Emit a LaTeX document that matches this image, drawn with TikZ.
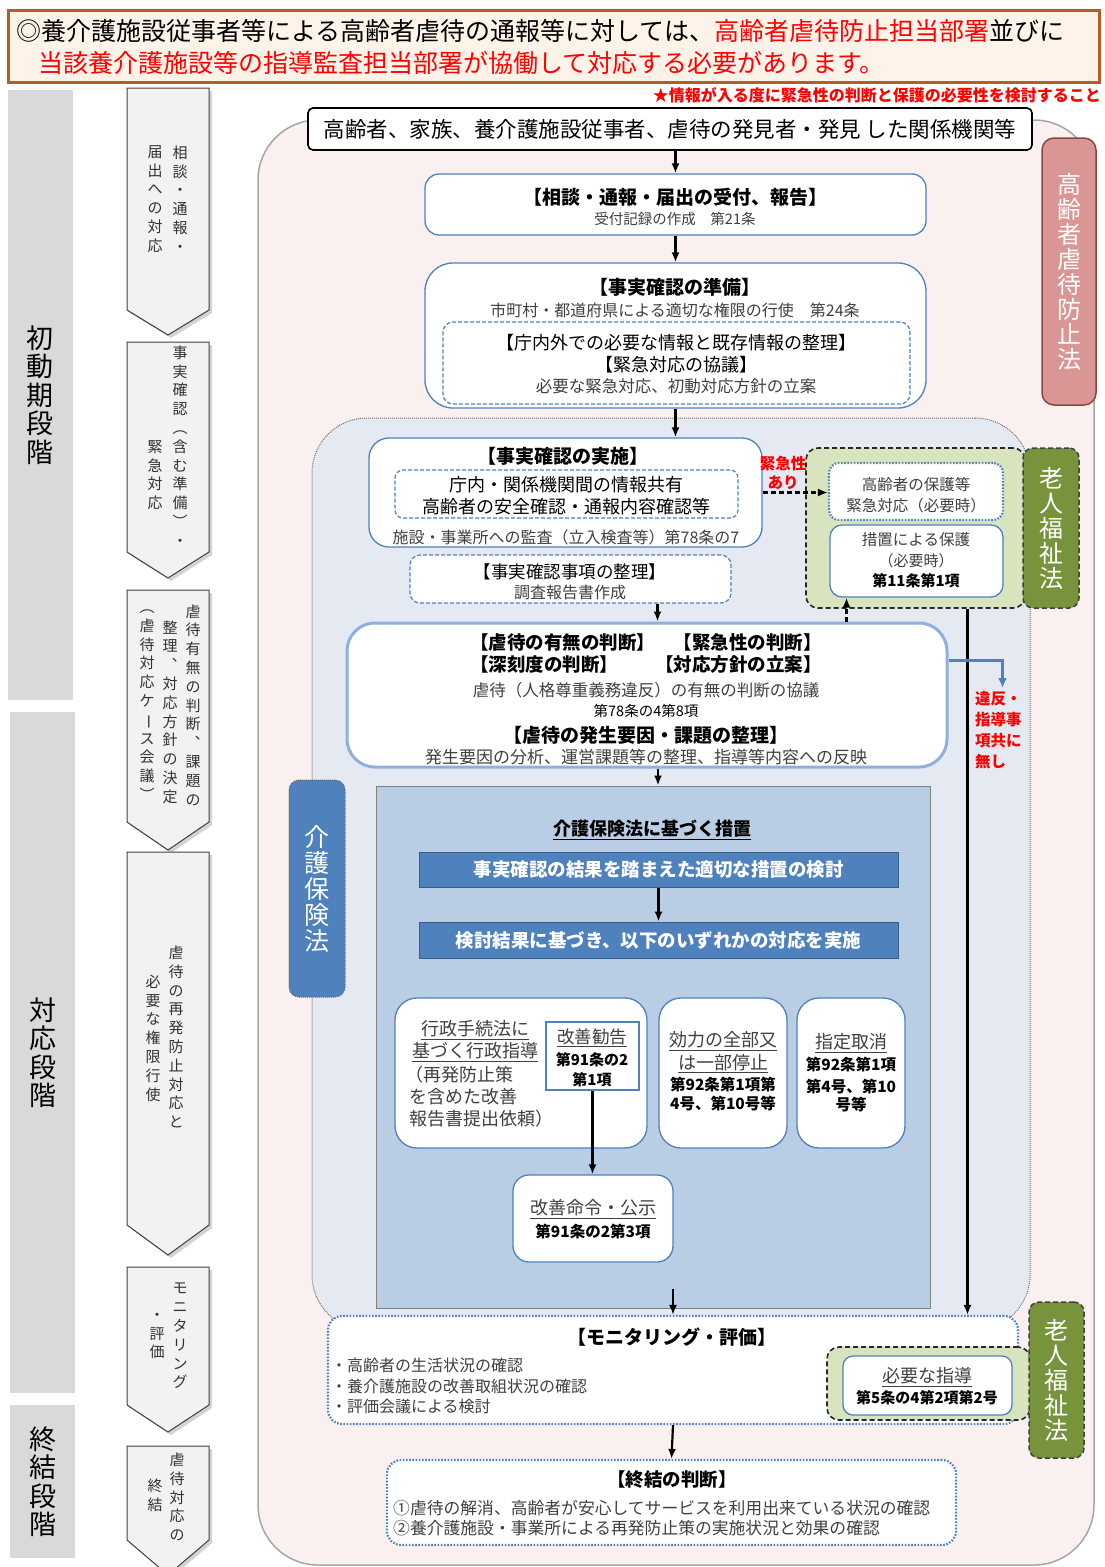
\documentclass[tikz,border=0pt]{standalone}
\usepackage{fontspec}
\setmainfont{Noto Sans CJK JP}
\usepackage{graphicx}
\usetikzlibrary{arrows.meta,shadows,fit,calc}
\definecolor{boxblue}{RGB}{79,129,189}
\definecolor{darkblue}{RGB}{56,93,138}
\definecolor{hdrfill}{RGB}{253,243,232}
\definecolor{hdrdraw}{RGB}{184,92,36}
\definecolor{pinkbg}{RGB}{249,240,239}
\definecolor{bluebg}{RGB}{229,233,242}
\definecolor{measurebg}{RGB}{185,205,229}
\definecolor{greenlt}{RGB}{215,228,189}
\definecolor{greendk}{RGB}{119,147,60}
\definecolor{pinktab}{RGB}{217,150,148}
\definecolor{pinkdraw}{RGB}{140,70,70}
\definecolor{stagegray}{RGB}{217,217,217}
\definecolor{judgeline}{RGB}{141,176,220}
\definecolor{txtgray}{RGB}{64,64,64}
\definecolor{myred}{RGB}{255,0,0}
\newcommand\fsz[1]{\fontsize{#1pt}{#1pt}\selectfont}
\def\vtloop#1{\ifx\relax#1\else\hbox to 1em{\hss#1\hss}\expandafter\vtloop\fi}
\newcommand\vcol[2]{\vbox{\baselineskip=#1pt\lineskiplimit=-\maxdimen\vtloop#2\relax}}
\newcommand\vbar{{\rotatebox[origin=c]{-90}{ー}}}
\begin{document}
\begin{tikzpicture}[x=1pt,y=-1pt,
  t/.style={inner sep=0pt, text=black},
  g/.style={inner sep=0pt, text=txtgray},
  vt/.style={inner sep=0pt, font=\fsz{15}, text=black!80},
  vw/.style={inner sep=0pt, text=white},
  area/.style={inner sep=0pt},
  bbox/.style={inner sep=0pt, draw=boxblue, line width=1.3pt, fill=white, rounded corners=#1},
  bbox/.default=14pt,
  dashbox/.style={inner sep=0pt, draw=boxblue, line width=1.2pt, dash pattern=on 4pt off 2pt, fill=white, rounded corners=10pt},
  dotbox/.style={inner sep=0pt, draw=boxblue, line width=2.2pt, dash pattern=on 1.6pt off 1.6pt, fill=white, rounded corners=14pt},
  greenreg/.style={inner sep=0pt, fill=greenlt, draw=black!85, line width=1.6pt, dash pattern=on 5pt off 3pt, rounded corners=12pt},
  greentab/.style={inner sep=0pt, fill=greendk, draw=black!75, line width=1.5pt, dash pattern=on 5pt off 3pt, rounded corners=10pt},
  bar/.style={inner sep=0pt, fill=boxblue, draw=darkblue, line width=1pt},
  chev/.style={draw=black!75, line width=1pt, fill=black!5, drop shadow={shadow xshift=3pt, shadow yshift=-3pt, opacity=0.35}},
  arr/.style={-{Latex[length=10pt,width=8pt]}, line width=2.2pt},
  dasharr/.style={-{Latex[length=10pt,width=8pt]}, line width=2.2pt, dash pattern=on 5pt off 3pt},
  bluearr/.style={-{Latex[length=10pt,width=9pt]}, line width=3pt, draw=boxblue, color=boxblue}
]
\useasboundingbox (0,0) rectangle (1104,1567);

% ---------- header ----------
\node[area, fit={(8,10)(1099,82)}, draw=hdrdraw, line width=3pt, fill=hdrfill] (hdr) {};
\node[t, anchor=base west, font=\fsz{25}] (h1) at (16,40) {◎養介護施設従事者等による高齢者虐待の通報等に対しては、\textcolor{myred}{高齢者虐待防止担当部署}並びに};
\node[t, anchor=base west, font=\fsz{25}, text=myred] (h2) at (38,72) {当該養介護施設等の指導監査担当部署が協働して対応する必要があります。};
\node[t, anchor=east, font=\fsz{16}\bfseries, text=myred] (note) at (1101,95) {★情報が入る度に緊急性の判断と保護の必要性を検討すること};

% ---------- stage columns ----------
\node[area, fit={(8,90)(73,700)}, fill=stagegray] (st1) {};
\node[t, font=\fsz{27}] (st1t) at (st1.center) {\vcol{28.5}{初動期段階}};
\node[area, fit={(10,712)(75,1393)}, fill=stagegray] (st2) {};
\node[t, font=\fsz{27}] (st2t) at (st2.center) {\vcol{28.5}{対応段階}};
\node[area, fit={(10,1405)(75,1558)}, fill=stagegray] (st3) {};
\node[t, font=\fsz{27}] (st3t) at (st3.center) {\vcol{28.5}{終結段階}};

% ---------- chevrons ----------
\foreach \a/\b/\c in {88/310/335, 342/552/578, 590/822/850, 852/1225/1255, 1267/1405/1432, 1446/1540/1575}
  \draw[chev] (127,\a) -- (209,\a) -- (209,\b) -- (168,\c) -- (127,\b) -- cycle;
\node[vt] (c1r) at (180,199) {\vcol{18.8}{相談・通報・}};
\node[vt] (c1l) at (155,199) {\vcol{18.8}{届出への対応}};
\node[vt] (c2r) at (180,446) {\vcol{18.8}{事実確認︵含む準備︶・}};
\node[vt] (c2l) at (155,475) {\vcol{18.8}{緊急対応}};
\node[vt] (c3r) at (193,705) {\vcol{18.8}{虐待有無の判断︑課題の}};
\node[vt] (c3m) at (170,712) {\vcol{18.8}{整理︑対応方針の決定}};
\node[vt] (c3l) at (147,705) {\vcol{18.8}{︵虐待対応ケ\vbar ス会議︶}};
\node[vt] (c4r) at (176,1037) {\vcol{18.8}{虐待の再発防止対応と}};
\node[vt] (c4l) at (153,1038) {\vcol{18.8}{必要な権限行使}};
\node[vt] (c5r) at (180,1336) {\vcol{18.8}{モニタリング}};
\node[vt] (c5l) at (157,1336) {\vcol{18.8}{・評価}};
\node[vt] (c6r) at (177,1497) {\vcol{18.8}{虐待対応の}};
\node[vt] (c6l) at (155,1495) {\vcol{18.8}{終結}};

% ---------- big regions ----------
\node[area, fit={(258,120)(1094,1565)}, fill=pinkbg, draw=black!35, line width=1.5pt, rounded corners=60pt] (pinkreg) {};
\node[area, fit={(1042,138)(1096,405)}, fill=pinktab, draw=pinkdraw, line width=1.5pt, rounded corners=12pt] (tabA) {};
\node[vw, font=\fsz{24}] (tabAt) at (tabA.center) {\vcol{25}{高齢者虐待防止法}};
\node[area, fit={(312,418)(1030,1330)}, fill=bluebg, draw=black!55, line width=1pt, dash pattern=on 1pt off 1pt, rounded corners=55pt] (bluereg) {};

% ---------- source ----------
\node[area, fit={(308,108)(1032,150)}, fill=white, draw=black, line width=1.6pt, rounded corners=5pt] (src) {};
\node[t, font=\fsz{21.5}] (srct) at (src.center) {高齢者、家族、養介護施設従事者、虐待の発見者・発見 した関係機関等};

% ---------- 相談 ----------
\node[bbox, fit={(425,174)(926,235)}] (soudan) {};
\node[t, font=\fsz{19}\bfseries] (soudan1) at (675,197) {【相談・通報・届出の受付、報告】};
\node[g, font=\fsz{14.5}] (soudan2) at (675,219) {受付記録の作成　第21条};

% ---------- 準備 ----------
\node[bbox=28pt, fit={(425,263)(926,408)}] (junbi) {};
\node[t, font=\fsz{19}\bfseries] (junbi1) at (675,287) {【事実確認の準備】};
\node[g, font=\fsz{16}] (junbi2) at (675,310) {市町村・都道府県による適切な権限の行使　第24条};
\node[dashbox, fit={(443,322)(910,404)}] (junbiin) {};
\node[t, font=\fsz{18}] (junbi3) at (676,343) {【庁内外での必要な情報と既存情報の整理】};
\node[t, font=\fsz{18}] (junbi4) at (676,365) {【緊急対応の協議】};
\node[g, font=\fsz{16.5}] (junbi5) at (676,386) {必要な緊急対応、初動対応方針の立案};

% ---------- 実施 ----------
\node[bbox=20pt, fit={(369,438)(762,547)}] (jisshi) {};
\node[t, font=\fsz{19}\bfseries] (jisshi1) at (563,456) {【事実確認の実施】};
\node[dashbox, rounded corners=8pt, fit={(395,470)(738,518)}] (jisshiin) {};
\node[t, font=\fsz{18}] (jisshi2) at (566,485) {庁内・関係機関間の情報共有};
\node[t, font=\fsz{18}] (jisshi3) at (566,507) {高齢者の安全確認・通報内容確認等};
\node[g, font=\fsz{16}] (jisshi4) at (566,537) {施設・事業所への監査（立入検査等）第78条の7};

% ---------- 整理 ----------
\node[dashbox, fit={(410,555)(731,603)}] (seiri) {};
\node[t, font=\fsz{17.5}] (seiri1) at (570,572) {【事実確認事項の整理】};
\node[g, font=\fsz{16}] (seiri2) at (570,592) {調査報告書作成};

% ---------- 老人福祉法 (1) ----------
\node[greenreg, fit={(806,448)(1025,608)}] (green1) {};
\node[greentab, fit={(1023,448)(1079,608)}] (tabB) {};
\node[vw, font=\fsz{24}] (tabBt) at (tabB.center) {\vcol{25}{老人福祉法}};
\node[dotbox, rounded corners=10pt, fit={(829,463)(1003,520)}] (hogo) {};
\node[g, font=\fsz{15.5}] (hogo1) at (916,485) {高齢者の保護等};
\node[g, font=\fsz{15.5}] (hogo2) at (916,506) {緊急対応（必要時）};
\node[bbox=12pt, fit={(830,525)(1003,597)}] (sochi) {};
\node[g, font=\fsz{15.5}] (sochi1) at (916,540) {措置による保護};
\node[g, font=\fsz{15}] (sochi2) at (916,561) {（必要時）};
\node[t, font=\fsz{15}\bfseries] (sochi3) at (916,581) {第11条第1項};
\node[t, font=\fsz{15.5}\bfseries, text=myred] (kin1) at (783,464) {緊急性};
\node[t, font=\fsz{15.5}\bfseries, text=myred] (kin2) at (783,483) {あり};

% ---------- 判断 ----------
\node[area, fit={(347,623)(947,767)}, fill=white, draw=judgeline, line width=3pt, rounded corners=28pt] (judg) {};
\node[t, font=\fsz{18.5}\bfseries] (judg1) at (646,642) {【虐待の有無の判断】　【緊急性の判断】};
\node[t, font=\fsz{18.5}\bfseries] (judg2) at (646,664) {【深刻度の判断】　　【対応方針の立案】};
\node[g, font=\fsz{16.5}] (judg3) at (646,690) {虐待（人格尊重義務違反）の有無の判断の協議};
\node[t, font=\fsz{14.5}] (judg4) at (646,711) {第78条の4第8項};
\node[t, font=\fsz{19}\bfseries] (judg5) at (646,735) {【虐待の発生要因・課題の整理】};
\node[g, font=\fsz{17}] (judg6) at (646,757) {発生要因の分析、運営課題等の整理、指導等内容への反映};
\node[t, font=\fsz{15.5}\bfseries, text=myred, anchor=west] (ihan1) at (975,699) {違反・};
\node[t, font=\fsz{15.5}\bfseries, text=myred, anchor=west] (ihan2) at (975,720) {指導事};
\node[t, font=\fsz{15.5}\bfseries, text=myred, anchor=west] (ihan3) at (975,741) {項共に};
\node[t, font=\fsz{15.5}\bfseries, text=myred, anchor=west] (ihan4) at (975,762) {無し};

% ---------- 介護保険法 ----------
\node[area, fit={(289,780)(345,997)}, fill=boxblue, draw=black!60, line width=1pt, dash pattern=on 1pt off 1pt, rounded corners=10pt] (tabC) {};
\node[vw, font=\fsz{25}] (tabCt) at (tabC.center) {\vcol{26}{介護保険法}};

\node[area, fit={(376,786)(930,1308)}, fill=measurebg, draw=black!50, line width=1pt] (measure) {};
\node[t, font=\fsz{18}\bfseries] (meas1) at (652,830) {\underline{介護保険法に基づく措置}};
\node[bar, fit={(419,852)(898,887)}] (bar1) {};
\node[vw, font=\fsz{18.5}\bfseries] (bar1t) at (bar1.center) {事実確認の結果を踏まえた適切な措置の検討};
\node[bar, fit={(419,922)(898,958)}] (bar2) {};
\node[vw, font=\fsz{18.5}\bfseries] (bar2t) at (bar2.center) {検討結果に基づき、以下のいずれかの対応を実施};

\node[bbox=22pt, fit={(395,998)(647,1148)}] (boxA) {};
\node[g, font=\fsz{18}] (a1) at (475,1030) {\underline{行政手続法に}};
\node[g, font=\fsz{18}] (a2) at (475,1052) {\underline{基づく行政指導}};
\node[g, font=\fsz{18}, anchor=west] (a3) at (405,1075) {（再発防止策};
\node[g, font=\fsz{18}, anchor=west] (a4) at (409,1097) {を含めた改善};
\node[g, font=\fsz{18}, anchor=west] (a5) at (409,1119) {報告書提出依頼）};
\node[area, fit={(546,1022)(639,1090)}, fill=white, draw=boxblue, line width=1.3pt] (kankoku) {};
\node[g, font=\fsz{17.5}] (k1) at (592,1038) {\underline{改善勧告}};
\node[t, font=\fsz{15}\bfseries] (k2) at (592,1060) {第91条の2};
\node[t, font=\fsz{15}\bfseries] (k3) at (592,1080) {第1項};

\node[bbox=22pt, fit={(659,998)(787,1148)}] (boxB) {};
\node[g, font=\fsz{18}] (b1) at (723,1041) {\underline{効力の全部又}};
\node[g, font=\fsz{18}] (b2) at (723,1064) {\underline{は一部停止}};
\node[t, font=\fsz{15.5}\bfseries] (b3) at (723,1085) {第92条第1項第};
\node[t, font=\fsz{15.5}\bfseries] (b4) at (723,1104) {4号、第10号等};

\node[bbox=22pt, fit={(797,998)(905,1148)}] (boxC) {};
\node[g, font=\fsz{18}] (cc1) at (851,1043) {\underline{指定取消}};
\node[t, font=\fsz{15.5}\bfseries] (cc2) at (851,1065) {第92条第1項};
\node[t, font=\fsz{15.5}\bfseries] (cc3) at (851,1087) {第4号、第10};
\node[t, font=\fsz{15.5}\bfseries] (cc4) at (851,1105) {号等};

\node[bbox=16pt, fit={(513,1175)(673,1262)}] (meirei) {};
\node[g, font=\fsz{18}] (m1) at (593,1209) {\underline{改善命令・公示}};
\node[t, font=\fsz{15.5}\bfseries] (m2) at (593,1232) {第91条の2第3項};

% ---------- モニタリング ----------
\node[dotbox, fit={(328,1316)(1018,1424)}] (monit) {};
\node[t, font=\fsz{19}\bfseries] (mo1) at (672,1337) {【モニタリング・評価】};
\node[g, font=\fsz{16}, anchor=west] (mo2) at (331,1365) {・高齢者の生活状況の確認};
\node[g, font=\fsz{16}, anchor=west] (mo3) at (331,1386) {・養介護施設の改善取組状況の確認};
\node[g, font=\fsz{16}, anchor=west] (mo4) at (331,1406) {・評価会議による検討};
\node[greenreg, fit={(827,1347)(1030,1420)}] (green2) {};
\node[bbox=10pt, fit={(843,1356)(1012,1415)}] (shido) {};
\node[g, font=\fsz{18}] (sh1) at (927,1377) {\underline{必要な指導}};
\node[t, font=\fsz{15}\bfseries] (sh2) at (927,1398) {第5条の4第2項第2号};
\node[greentab, fit={(1029,1302)(1084,1458)}] (tabD) {};
\node[vw, font=\fsz{24}] (tabDt) at (tabD.center) {\vcol{25}{老人福祉法}};

% ---------- 終結 ----------
\node[dotbox, fit={(387,1460)(956,1545)}] (final) {};
\node[t, font=\fsz{18.5}\bfseries] (f1) at (672,1480) {【終結の判断】};
\node[g, font=\fsz{16.8}, anchor=west] (f2) at (393,1508) {①虐待の解消、高齢者が安心してサービスを利用出来ている状況の確認};
\node[g, font=\fsz{16.8}, anchor=west] (f3) at (393,1528) {②養介護施設・事業所による再発防止策の実施状況と効果の確認};

% ---------- connectors ----------
\draw[arr] (soudan.north |- src.south) -- (soudan.north);
\draw[arr] (soudan.south) -- (junbi.north);
\draw[arr] (junbi.south) -- (junbi.south |- jisshi.north);
\draw[dasharr] (jisshi.east) -- (jisshi.east -| hogo.west);
\draw[arr] ([xshift=87pt]seiri.south) -- ([xshift=87pt]seiri.south |- judg.north);
\draw[dasharr] ([xshift=-70pt]sochi.south |- judg.north) -- ([xshift=-70pt]sochi.south);
\draw[arr] ([xshift=52pt]green1.south) -- ([xshift=52pt]green1.south |- monit.north);
\draw[bluearr] ([yshift=35pt]judg.east) -- ++(54,0) -- ++(0,28);
\draw[arr] ([xshift=5pt]measure.north |- judg.south) -- ([xshift=5pt]measure.north);
\draw[arr] (bar1.south) -- (bar2.north);
\draw[arr] (kankoku.south) -- (kankoku.south |- meirei.north);
\draw[arr] ($(monit.north |- measure.south)+(0,-20)$) -- (monit.north);
\draw[arr] (monit.south) -- (final.north);
\end{tikzpicture}
\end{document}
